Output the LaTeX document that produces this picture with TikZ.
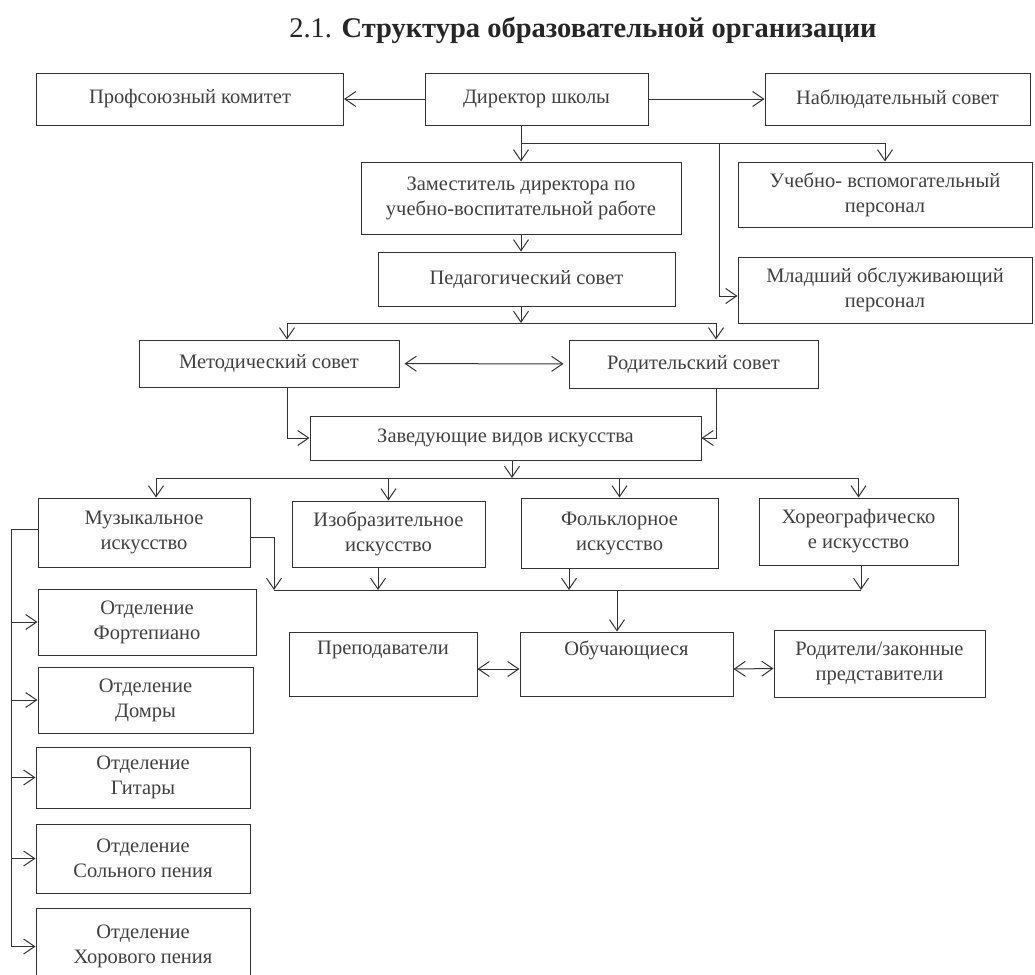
\documentclass[tikz,border=0pt]{standalone}
\usepackage{fontspec}
\setmainfont{Liberation Serif}
\usetikzlibrary{arrows.meta}

\tikzset{
  box/.style={draw, rectangle, align=center, inner sep=2pt, text=black!75,
    font=\fontsize{20.5}{25}\selectfont},
  arr/.style={-{Straight Barb[length=11pt,width=15pt]}},
  dbl/.style={{Straight Barb[length=11pt,width=15pt]}-{Straight Barb[length=11pt,width=15pt]}}
}

\begin{document}
\begin{tikzpicture}[x=1pt,y=-1pt,line width=1pt,color=black!80]
\clip (0,0) rectangle (1035,974);

\node[font=\fontsize{28.5}{32}\selectfont, text=black!85] (title) at (583,30)
  {2.1. \textbf{Структура образовательной организации}};

% top level
\node[box, minimum width=307pt, minimum height=52pt] (prof) at (190,99) {Профсоюзный комитет};
\node[box, minimum width=223pt, minimum height=52pt] (dir) at (536.5,99) {Директор школы};
\node[box, minimum width=265pt, minimum height=52pt] (nabl) at (897.5,99) {Наблюдательный совет};

\node[box, minimum width=320pt, minimum height=72pt] (zam) at (521,198)
  {Заместитель директора по\\учебно-воспитательной работе};
\node[box, minimum width=294pt, minimum height=65pt] (uvp) at (885,194.5)
  {Учебно- вспомогательный\\персонал};
\node[box, minimum width=297pt, minimum height=54pt] (ped) at (526.5,279) {Педагогический совет};
\node[box, minimum width=294pt, minimum height=66pt] (mlad) at (885,290)
  {Младший обслуживающий\\персонал};

\node[box, minimum width=260pt, minimum height=47pt] (metod) at (269,363.5) {Методический совет};
\node[box, minimum width=249pt, minimum height=48pt] (rodsov) at (693.5,364) {Родительский совет};
\node[box, minimum width=391pt, minimum height=44pt] (zav) at (505.5,438) {Заведующие видов искусства};

% kinds of art
\node[box, minimum width=212pt, minimum height=69pt] (muz) at (144,532.5) {Музыкальное\\искусство};
\node[box, minimum width=193pt, minimum height=66pt] (izo) at (388.5,534) {Изобразительное\\искусство};
\node[box, minimum width=197pt, minimum height=70pt] (folk) at (619.5,533) {Фольклорное\\искусство};
\node[box, minimum width=199pt, minimum height=67pt] (hor) at (858.5,531.5) {Хореографическо\\е искусство};

\node[box, minimum width=188pt, minimum height=64pt] (prep) at (383,664) {Преподаватели\\\strut};
\node[box, minimum width=213pt, minimum height=64pt] (obuch) at (626.5,664) {Обучающиеся\\\strut};
\node[box, minimum width=211pt, minimum height=67pt] (rodit) at (879.5,663.5)
  {Родители/законные\\представители};

% departments
\node[box, minimum width=218pt, minimum height=66pt] (fort) at (147,622) {Отделение\\Фортепиано};
\node[box, minimum width=215pt, minimum height=66pt] (domr) at (145.5,700) {Отделение\\Домры};
\node[box, minimum width=214pt, minimum height=61pt] (gitar) at (143,777.5) {Отделение\\Гитары};
\node[box, minimum width=214pt, minimum height=69pt] (solo) at (143,858.5) {Отделение\\Сольного пения};
\node[box, minimum width=214pt, minimum height=77pt] (horp) at (143,946.5) {Отделение\\Хорового пения};

% connectors
\draw[arr] (dir) -- (prof);
\draw[arr] (dir) -- (nabl);

\coordinate (a1) at (521,143);
\coordinate (a2) at (719,143);
\draw[arr] (dir.south -| a1) -- (zam.north -| a1);
\draw[arr] (a1) -| (uvp.north);
\draw[arr] (a2) |- ([yshift=-6pt]mlad.west);
\draw[arr] (zam.south -| a1) -- (ped.north -| a1);

\coordinate (b1) at (287,323);
\coordinate (b2) at (716,323);
\draw[arr] (ped.south -| a1) -- (a1 |- b1);
\draw (b1) -- (b2);
\draw[arr] (b1) -- (metod.north -| b1);
\draw[arr] (b2) -- (rodsov.north -| b2);
\draw[dbl, shorten <=5pt, shorten >=5pt] (metod) -- (rodsov);
\draw[arr] (metod.south -| b1) |- (zav.west);
\draw[arr] (rodsov.south -| b2) |- (zav.east);

\coordinate (c0) at (512,478);
\coordinate (c1) at (156,478);
\draw[arr] (zav.south -| c0) -- (c0);
\draw (c1) -- (c1 -| hor.north);
\draw[arr] (c1) -- (muz.north -| c1);
\draw[arr] (izo.north |- c1) -- (izo.north);
\draw[arr] (folk.north |- c1) -- (folk.north);
\draw[arr] (hor.north |- c1) -- (hor.north);

\coordinate (d1) at (274,590);
\coordinate (d2) at (861,590);
\coordinate (d3) at (569,590);
\coordinate (d4) at (378,590);
\coordinate (d5) at (617,590);
\draw[arr] ([yshift=-5pt]muz.east) -| (d1);
\draw (d1) -- (d2);
\draw[arr] (izo.south -| d4) -- (d4);
\draw[arr] (folk.south -| d3) -- (d3);
\draw[arr] (hor.south -| d2) -- (d2);
\draw[arr] (d5) -- (obuch.north -| d5);
\draw[dbl] ([yshift=-5pt]prep.east) -- ([yshift=-5pt]obuch.west);
\draw[dbl] ([yshift=-5pt]obuch.east) -- ([yshift=-5pt]rodit.west);

\coordinate (e1) at (11,529);
\draw ([yshift=3pt]muz.west) -| (e1 |- horp.west);
\foreach \n in {fort,domr,gitar,solo,horp}
  \draw[arr] (e1 |- \n.west) -- (\n.west);
\end{tikzpicture}
\end{document}
